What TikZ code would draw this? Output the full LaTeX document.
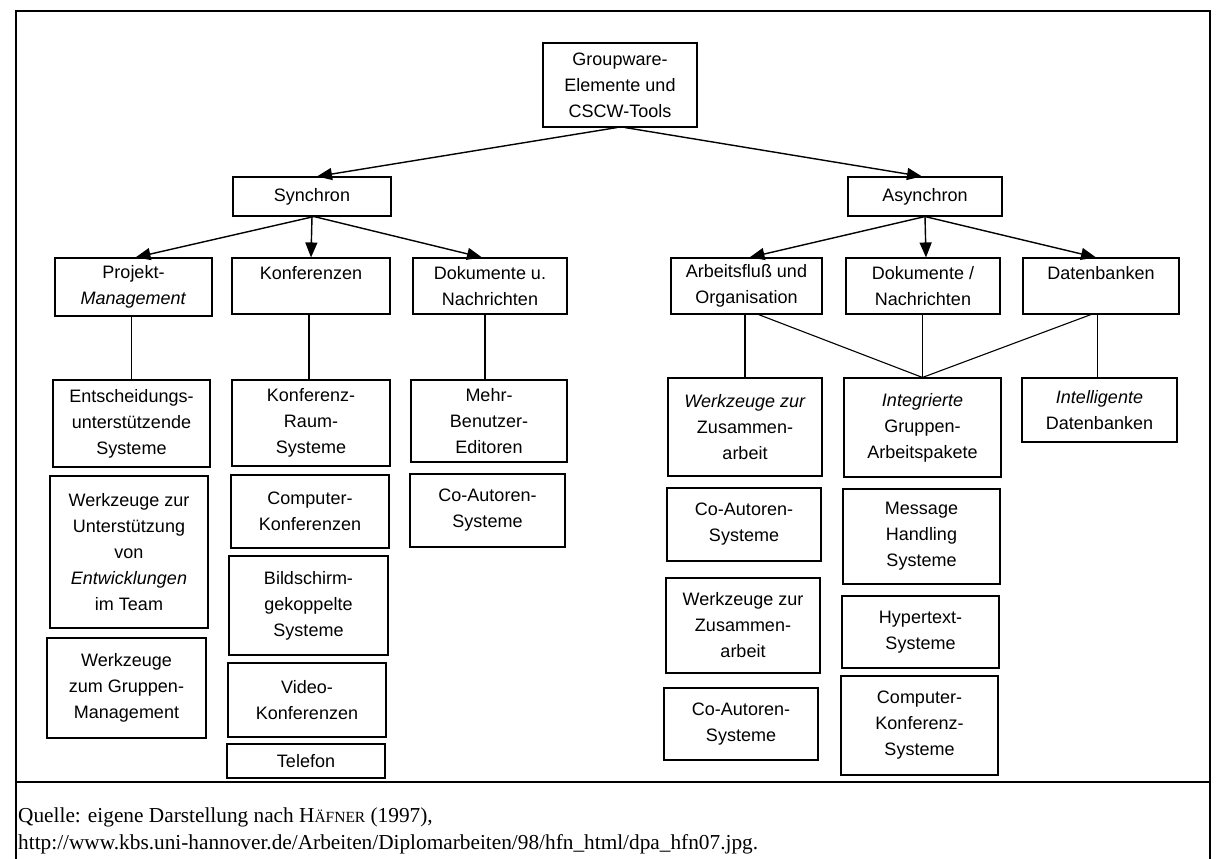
\documentclass[tikz,border=0pt]{standalone}
\usepackage{fontspec}
\setmainfont{Liberation Serif}
\newfontfamily\boxfont{Liberation Sans}
\usetikzlibrary{arrows.meta}
\begin{document}
\begin{tikzpicture}[x=1pt,y=-1pt,
  bx/.style={draw, line width=1.1pt, align=center, inner sep=0pt,
    font=\boxfont\fontsize{18}{26}\selectfont},
  arr/.style={line width=1.4pt, -{Triangle[length=15pt,width=12pt]}},
  ln/.style={line width=1.1pt},
  frame/.style={line width=1.2pt}]
\useasboundingbox (0,0) rectangle (1224,859);
% frame
\draw[frame] (16,870) -- (16,11) -- (1210,11) -- (1210,870);
\draw[frame] (16,782) -- (1210,782);
% level 0
\node[bx, minimum width=154, minimum height=84] (root) at (620,85) {Groupware-\\Elemente und\\CSCW-Tools};
% level 1
\node[bx, minimum width=158, minimum height=39] (syn) at (312,196.5) {Synchron};
\node[bx, minimum width=154, minimum height=39] (asyn) at (925,196.5) {Asynchron};
% level 2
\node[bx, minimum width=157, minimum height=58] (proj) at (133.5,287) {Projekt-\\\textit{Management}};
\node[bx, minimum width=158, minimum height=56] (konf) at (311,286) {Konferenzen\\\mbox{}};
\node[bx, minimum width=154, minimum height=56] (doku) at (490,286) {Dokumente u.\\Nachrichten};
\node[bx, minimum width=151, minimum height=56] (arb) at (746.5,286) {Arbeitsfluß und\\Organisation};
\node[bx, minimum width=154, minimum height=56] (dokn) at (923,286) {Dokumente /\\Nachrichten};
\node[bx, minimum width=156, minimum height=56] (dat) at (1101,286) {Datenbanken\\\mbox{}};
% level 3 left
\node[bx, minimum width=157, minimum height=87] (e1) at (131.5,423.5) {Entscheidungs-\\unterstützende\\Systeme};
\node[bx, minimum width=158, minimum height=152] (e2) at (129,552) {Werkzeuge zur\\Unterstützung\\von\\\textit{Entwicklungen}\\im Team};
\node[bx, minimum width=159, minimum height=100] (e3) at (126.5,688) {Werkzeuge\\zum Gruppen-\\Management};
\node[bx, minimum width=158, minimum height=86] (k1) at (311,423) {Konferenz-\\Raum-\\Systeme};
\node[bx, minimum width=158, minimum height=73] (k2) at (310,511.5) {Computer-\\Konferenzen};
\node[bx, minimum width=159, minimum height=99] (k3) at (308.5,605.5) {Bildschirm-\\gekoppelte\\Systeme};
\node[bx, minimum width=158, minimum height=74] (k4) at (307,700) {Video-\\Konferenzen};
\node[bx, minimum width=158, minimum height=34] (k5) at (306,761) {Telefon};
\node[bx, minimum width=156, minimum height=82] (d1) at (489,421) {Mehr-\\Benutzer-\\Editoren};
\node[bx, minimum width=155, minimum height=73] (d2) at (487.5,510.5) {Co-Autoren-\\Systeme};
% level 3 right
\node[bx, minimum width=154, minimum height=98] (a1) at (745,427) {\textit{Werkzeuge zur}\\Zusammen-\\arbeit};
\node[bx, minimum width=154, minimum height=73] (a2) at (744,524.5) {Co-Autoren-\\Systeme};
\node[bx, minimum width=154, minimum height=95] (a3) at (743,625.5) {Werkzeuge zur\\Zusammen-\\arbeit};
\node[bx, minimum width=154, minimum height=72] (a4) at (741,724) {Co-Autoren-\\Systeme};
\node[bx, minimum width=157, minimum height=99] (n1) at (922.5,427.5) {\textit{Integrierte}\\Gruppen-\\Arbeitspakete};
\node[bx, minimum width=157, minimum height=95] (n2) at (921.5,536.5) {Message\\Handling\\Systeme};
\node[bx, minimum width=157, minimum height=72] (n3) at (920.5,632) {Hypertext-\\Systeme};
\node[bx, minimum width=157, minimum height=99] (n4) at (919.5,725.5) {Computer-\\Konferenz-\\Systeme};
\node[bx, minimum width=155, minimum height=64] (b1) at (1099.5,410) {\textit{Intelligente}\\Datenbanken};
% arrows
\draw[arr] ([xshift=-3]root.south) -- ([xshift=5]syn.north);
\draw[arr] ([xshift=5]root.south) -- ([xshift=-3]asyn.north);
\draw[arr] ([xshift=2]syn.south) -- ([xshift=2]proj.north);
\draw[arr] (syn.south) -- (konf.north);
\draw[arr] ([xshift=2]syn.south) -- ([xshift=-8]doku.north);
\draw[arr] (asyn.south) -- ([xshift=3]arb.north);
\draw[arr] (asyn.south) -- ([xshift=3]dokn.north);
\draw[arr] (asyn.south) -- ([xshift=-5]dat.north);
% plain connectors
\draw[ln] (e1.north) -- (e1.north |- proj.south);
\draw[ln] ([xshift=-2]k1.north) -- ([xshift=-2]k1.north |- konf.south);
\draw[ln] ([xshift=-4]d1.north) -- ([xshift=-4]d1.north |- doku.south);
\draw[ln] (a1.north) -- (a1.north |- arb.south);
\draw[ln] ([xshift=12]arb.south) -- (n1.north);
\draw[ln] (n1.north) -- (n1.north |- dokn.south);
\draw[ln] ([xshift=-10]dat.south) -- (n1.north);
\draw[ln] ([xshift=-2]b1.north) -- ([xshift=-2]b1.north |- dat.south);
% caption
\node[anchor=base west, inner sep=0pt, font=\fontsize{21.3}{27}\selectfont] (q1) at (18,822)
  {Quelle: eigene Darstellung nach H{\fontsize{15.5}{20}\selectfont ÄFNER} (1997),};
\node[anchor=base west, inner sep=0pt, font=\fontsize{21.3}{27}\selectfont] (q2) at (18,849)
  {http://www.kbs.uni-hannover.de/Arbeiten/Diplomarbeiten/98/hfn\_html/dpa\_hfn07.jpg.};
\end{tikzpicture}
\end{document}
